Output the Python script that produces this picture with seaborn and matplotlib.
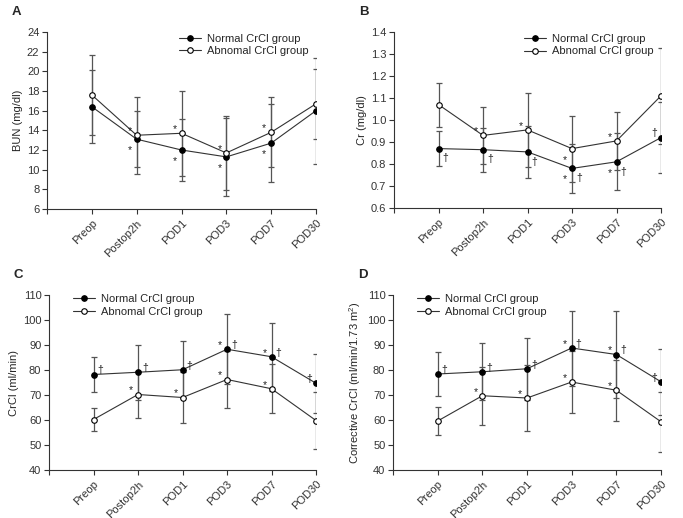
"""Figura com 4 paineis: BUN, Cr, CrCl e CrCl corrigido por grupo de CrCl."""
import matplotlib
matplotlib.use("Agg")
import matplotlib.pyplot as plt
import numpy as np
import pandas as pd
import seaborn as sns

time_points = ["Preop", "Postop2h", "POD1", "POD3", "POD7", "POD30"]
groups = ["Normal CrCl group", "Abnomal CrCl group"]

# A - BUN (mg/dl)
bun_normal = [16.4, 13.1, 12.0, 11.3, 12.7, 16.0]
bun_normal_sd = [3.7, 2.85, 3.2, 4.0, 3.95, 5.4]
bun_abnormal = [17.6, 13.5, 13.7, 11.7, 13.8, 16.7]
bun_abnormal_sd = [4.05, 3.9, 4.35, 3.8, 3.55, 3.55]

# B - Cr (mg/dl)
cr_normal = [0.87, 0.865, 0.855, 0.78, 0.81, 0.92]
cr_normal_sd = [0.08, 0.10, 0.12, 0.11, 0.13, 0.16]
cr_abnormal = [1.07, 0.93, 0.955, 0.87, 0.905, 1.11]
cr_abnormal_sd = [0.10, 0.13, 0.17, 0.15, 0.13, 0.217]

# C - CrCl (ml/min)
crcl_normal = [78.2, 79.1, 80.1, 88.3, 85.3, 74.7]
crcl_normal_sd = [7.1, 10.9, 11.4, 14.0, 13.7, 11.8]
crcl_abnormal = [60.2, 70.2, 69.0, 76.2, 72.5, 59.8]
crcl_abnormal_sd = [4.7, 9.3, 10.2, 11.4, 9.8, 11.4]

# D - CrCl corrigido (ml/min/1.73 m2)
ccrcl_normal = [78.4, 79.3, 80.5, 88.8, 86.2, 75.3]
ccrcl_normal_sd = [8.8, 11.4, 12.4, 15.0, 17.3, 13.2]
ccrcl_abnormal = [59.6, 69.7, 68.8, 75.2, 71.9, 59.3]
ccrcl_abnormal_sd = [5.45, 11.6, 13.1, 12.3, 12.1, 12.0]

# marcas de significancia: (grupo, indice, simbolo, posicao)
marks_a = [(1, i, "*", "ul") for i in range(1, 5)] + [(0, i, "*", "ll") for i in range(1, 5)]
marks_b = ([(1, 1, "*", "ul"), (1, 2, "*", "ul"), (1, 3, "*", "ll"), (1, 4, "*", "ul")]
           + [(0, 3, "*", "ll"), (0, 4, "*", "ll")]
           + [(0, i, "\u2020", "lr") for i in range(0, 5)] + [(0, 5, "\u2020", "ul")])
marks_c = ([(1, i, "*", "ul") for i in range(1, 5)]
           + [(0, 3, "*", "ul"), (0, 4, "*", "ul")]
           + [(0, i, "\u2020", "ur") for i in range(0, 5)] + [(0, 5, "\u2020", "ul")])
marks_d = marks_c

panels = [
    ("A", bun_normal, bun_normal_sd, bun_abnormal, bun_abnormal_sd, "BUN (mg/dl)",
     (6, 24), np.arange(6, 25, 2), "{:.0f}", "upper right", marks_a,
     [47, 316, 32, 209]),
    ("B", cr_normal, cr_normal_sd, cr_abnormal, cr_abnormal_sd, "Cr (mg/dl)",
     (0.6, 1.4), np.arange(0.6, 1.41, 0.1), "{:.1f}", "upper right", marks_b,
     [394, 661, 32, 208]),
    ("C", crcl_normal, crcl_normal_sd, crcl_abnormal, crcl_abnormal_sd, "CrCl (ml/min)",
     (40, 110), np.arange(40, 111, 10), "{:.0f}", "upper left", marks_c,
     [49, 316, 295, 470]),
    ("D", ccrcl_normal, ccrcl_normal_sd, ccrcl_abnormal, ccrcl_abnormal_sd,
     "Corrective CrCl (ml/min/1.73 m$^2$)",
     (40, 110), np.arange(40, 111, 10), "{:.0f}", "upper left", marks_d,
     [393, 661, 295, 470]),
]

sns.set_theme(style="ticks")
plt.rcParams["font.family"] = ["Liberation Sans", "DejaVu Sans"]
plt.rcParams["mathtext.fontset"] = "custom"
plt.rcParams["mathtext.rm"] = "Liberation Sans"

W, H = 683, 518
fig = plt.figure(figsize=(W / 100, H / 100), dpi=100)

offsets = {"ul": (-5, 3), "ll": (-5, -8), "ur": (5, 3), "lr": (5, -7)}
line_color = "#333333"
err_color = "#555555"
fs = 8

for letter, n_mean, n_sd, a_mean, a_sd, ylabel, ylim, yticks, fmt, legend_loc, marks, box in panels:
    left, right, top, bottom = box
    ax = fig.add_axes([left / W, (H - bottom) / H, (right - left) / W, (bottom - top) / H])
    df = pd.DataFrame({
        "pos": list(range(len(time_points))) * 2,
        "value": n_mean + a_mean,
        "sd": n_sd + a_sd,
        "group": [groups[0]] * len(time_points) + [groups[1]] * len(time_points),
    })
    means = [n_mean, a_mean]
    for gi, g in enumerate(groups):
        sub = df[df["group"] == g]
        ax.errorbar(sub["pos"], sub["value"], yerr=sub["sd"], fmt="none",
                    ecolor=err_color, elinewidth=0.9, capsize=2.4, capthick=0.9, zorder=1)
    for gi, g in enumerate(groups):
        sub = df[df["group"] == g]
        sns.lineplot(data=sub, x="pos", y="value", ax=ax, color=line_color, linewidth=0.8,
                     marker="o", markersize=4, markeredgecolor="black", markeredgewidth=0.8,
                     markerfacecolor="black" if gi == 0 else "white", label=g, zorder=3)
    for gi, idx, sym, where in marks:
        dx, dy = offsets[where]
        ax.annotate(sym, (idx, means[gi][idx]), xytext=(dx, dy), textcoords="offset points",
                    ha="center", va="center", fontsize=7.5, color="#222222")

    ax.set_xlim(-1, 5)
    ax.set_ylim(*ylim)
    ax.set_xticks(range(-1, len(time_points)))
    ax.set_xticklabels([""] + time_points, rotation=45, ha="right", rotation_mode="anchor",
                       fontsize=fs)
    ax.set_yticks(yticks)
    ax.set_yticklabels([fmt.format(v) for v in yticks], fontsize=fs)
    ax.set_xlabel("")
    ax.set_ylabel(ylabel, fontsize=fs, labelpad=3)
    ax.tick_params(length=3.5, width=0.8, colors="#333333", pad=2)
    ax.tick_params(axis="x", pad=3)
    for s in ["top", "right"]:
        ax.spines[s].set_visible(False)
    for s in ["left", "bottom"]:
        ax.spines[s].set_linewidth(0.8)
        ax.spines[s].set_color("#333333")
    leg_kw = dict(fontsize=fs, frameon=False, handlelength=2.0, labelspacing=0.25,
                  handletextpad=0.5, borderpad=0.2)
    if legend_loc == "upper right":
        ax.legend(loc="upper right", bbox_to_anchor=(1.0, 1.035), **leg_kw)
    else:
        ax.legend(loc="upper left", bbox_to_anchor=(0.06, 1.05), **leg_kw)
    fig.text((left - 35) / W, 1 - (top - 20) / H, letter, fontsize=9.5, fontweight="bold",
             ha="left", va="center")

fig.savefig("out.png", dpi=100)
